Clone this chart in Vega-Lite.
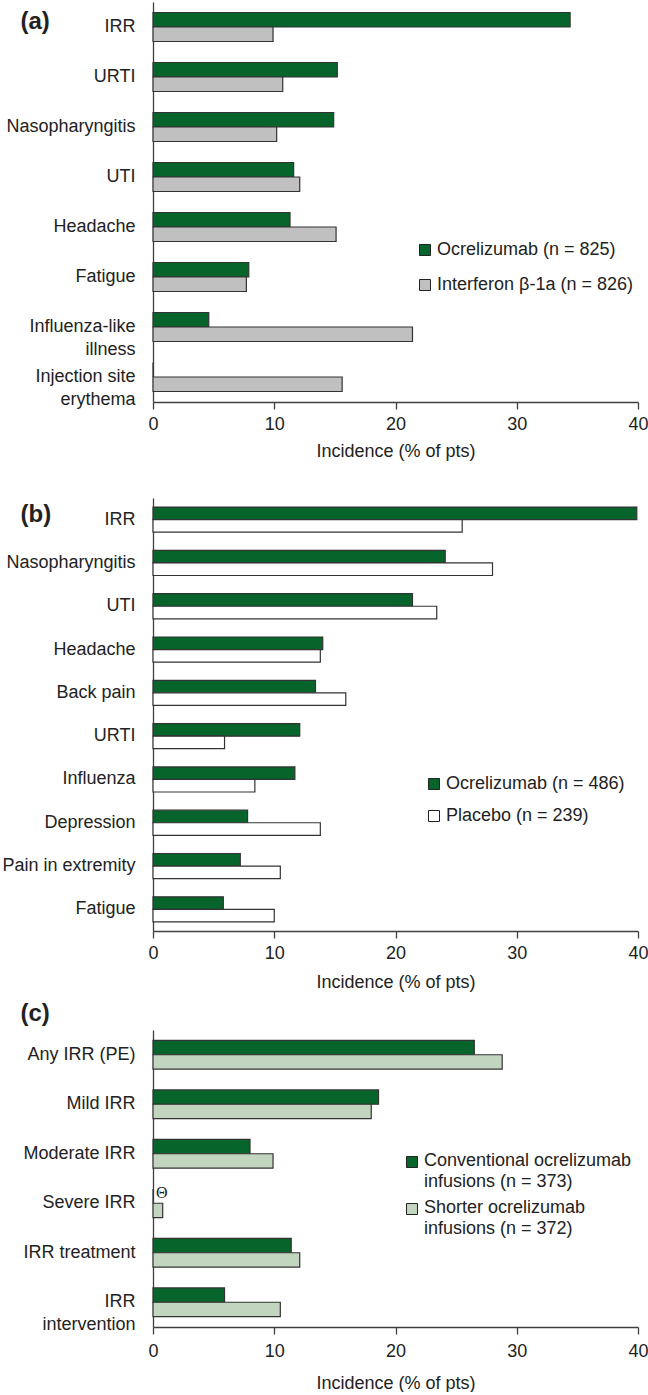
{
  "$schema": "https://vega.github.io/schema/vega-lite/v6.json",
  "padding": {"left": 1, "top": 2, "right": 0, "bottom": 0},
  "background": "white",
  "config": {
    "font": "Liberation Sans",
    "view": {"stroke": null},
    "axis": {
      "labelFont": "Liberation Sans", "labelFontSize": 18, "labelColor": "#222",
      "titleFont": "Liberation Sans", "titleFontSize": 18, "titleFontWeight": "normal", "titleColor": "#222",
      "domainColor": "#404040", "domainWidth": 1.3, "tickColor": "#404040", "tickWidth": 1.3, "grid": false
    },
    "legend": {
      "labelFont": "Liberation Sans", "labelFontSize": 18, "labelColor": "#222",
      "symbolType": "square", "symbolSize": 121, "symbolStrokeColor": "#222", "symbolStrokeWidth": 1,
      "labelLimit": 400, "labelOffset": 3
    }
  },
  "resolve": {"scale": {"x": "independent", "y": "independent", "yOffset": "independent", "fill": "independent"}, "legend": {"fill": "independent"}},
  "spacing": 10,
  "vconcat": [
    {
      "spacing": 38,
      "resolve": {"scale": {"x": "independent", "y": "independent", "yOffset": "independent", "fill": "independent"}, "legend": {"fill": "independent"}},
      "vconcat": [
        {
          "width": 485, "height": 400,
          "data": {"values": [
            {"event": "IRR", "arm": "Ocrelizumab (n = 825)", "pct": 34.4},
            {"event": "IRR", "arm": "Interferon β-1a (n = 826)", "pct": 9.9},
            {"event": "URTI", "arm": "Ocrelizumab (n = 825)", "pct": 15.2},
            {"event": "URTI", "arm": "Interferon β-1a (n = 826)", "pct": 10.7},
            {"event": "Nasopharyngitis", "arm": "Ocrelizumab (n = 825)", "pct": 14.9},
            {"event": "Nasopharyngitis", "arm": "Interferon β-1a (n = 826)", "pct": 10.2},
            {"event": "UTI", "arm": "Ocrelizumab (n = 825)", "pct": 11.6},
            {"event": "UTI", "arm": "Interferon β-1a (n = 826)", "pct": 12.1},
            {"event": "Headache", "arm": "Ocrelizumab (n = 825)", "pct": 11.3},
            {"event": "Headache", "arm": "Interferon β-1a (n = 826)", "pct": 15.1},
            {"event": "Fatigue", "arm": "Ocrelizumab (n = 825)", "pct": 7.9},
            {"event": "Fatigue", "arm": "Interferon β-1a (n = 826)", "pct": 7.7},
            {"event": "Influenza-like illness", "arm": "Ocrelizumab (n = 825)", "pct": 4.6},
            {"event": "Influenza-like illness", "arm": "Interferon β-1a (n = 826)", "pct": 21.4},
            {"event": "Injection site erythema", "arm": "Ocrelizumab (n = 825)", "pct": 0},
            {"event": "Injection site erythema", "arm": "Interferon β-1a (n = 826)", "pct": 15.6}
          ]},
          "mark": {"type": "bar", "stroke": "#333", "strokeWidth": 1.2},
          "encoding": {
            "y": {
              "field": "event", "type": "nominal",
              "sort": ["IRR", "URTI", "Nasopharyngitis", "UTI", "Headache", "Fatigue", "Influenza-like illness", "Injection site erythema"],
              "scale": {"paddingInner": 0.42, "paddingOuter": 0.21},
              "axis": {
                "title": "(a)", "titleAngle": 0, "titleX": -133, "titleY": 19, "titleAlign": "left", "titleBaseline": "middle",
                "titleFontSize": 24, "titleFontWeight": "bold", "ticks": false, "labelPadding": 18, "labelLineHeight": 22.5,
                "labelExpr": "datum.label == 'Influenza-like illness' ? ['Influenza-like', 'illness'] : datum.label == 'Injection site erythema' ? ['Injection site', 'erythema'] : datum.label"
              }
            },
            "yOffset": {"field": "arm", "type": "nominal", "sort": ["Ocrelizumab (n = 825)", "Interferon β-1a (n = 826)"]},
            "x": {
              "field": "pct", "type": "quantitative", "scale": {"domain": [0, 40]},
              "axis": {"values": [0, 10, 20, 30, 40], "title": "Incidence (% of pts)", "tickSize": 7, "labelPadding": 6, "titlePadding": 9, "labelFlush": false}
            },
            "fill": {
              "field": "arm", "type": "nominal",
              "scale": {"domain": ["Ocrelizumab (n = 825)", "Interferon β-1a (n = 826)"], "range": ["#07652b", "#c0c0c0"]},
              "legend": {"title": null, "orient": "none", "legendX": 263, "legendY": 239, "rowPadding": 17}
            }
          }
        },
        {
          "width": 485, "height": 433,
          "data": {"values": [
            {"event": "IRR", "arm": "Ocrelizumab (n = 486)", "pct": 39.9},
            {"event": "IRR", "arm": "Placebo (n = 239)", "pct": 25.5},
            {"event": "Nasopharyngitis", "arm": "Ocrelizumab (n = 486)", "pct": 24.1},
            {"event": "Nasopharyngitis", "arm": "Placebo (n = 239)", "pct": 28.0},
            {"event": "UTI", "arm": "Ocrelizumab (n = 486)", "pct": 21.4},
            {"event": "UTI", "arm": "Placebo (n = 239)", "pct": 23.4},
            {"event": "Headache", "arm": "Ocrelizumab (n = 486)", "pct": 14.0},
            {"event": "Headache", "arm": "Placebo (n = 239)", "pct": 13.8},
            {"event": "Back pain", "arm": "Ocrelizumab (n = 486)", "pct": 13.4},
            {"event": "Back pain", "arm": "Placebo (n = 239)", "pct": 15.9},
            {"event": "URTI", "arm": "Ocrelizumab (n = 486)", "pct": 12.1},
            {"event": "URTI", "arm": "Placebo (n = 239)", "pct": 5.9},
            {"event": "Influenza", "arm": "Ocrelizumab (n = 486)", "pct": 11.7},
            {"event": "Influenza", "arm": "Placebo (n = 239)", "pct": 8.4},
            {"event": "Depression", "arm": "Ocrelizumab (n = 486)", "pct": 7.8},
            {"event": "Depression", "arm": "Placebo (n = 239)", "pct": 13.8},
            {"event": "Pain in extremity", "arm": "Ocrelizumab (n = 486)", "pct": 7.2},
            {"event": "Pain in extremity", "arm": "Placebo (n = 239)", "pct": 10.5},
            {"event": "Fatigue", "arm": "Ocrelizumab (n = 486)", "pct": 5.8},
            {"event": "Fatigue", "arm": "Placebo (n = 239)", "pct": 10.0}
          ]},
          "mark": {"type": "bar", "stroke": "#333", "strokeWidth": 1.2},
          "encoding": {
            "y": {
              "field": "event", "type": "nominal",
              "sort": ["IRR", "Nasopharyngitis", "UTI", "Headache", "Back pain", "URTI", "Influenza", "Depression", "Pain in extremity", "Fatigue"],
              "scale": {"paddingInner": 0.42, "paddingOuter": 0.21},
              "axis": {
                "title": "(b)", "titleAngle": 0, "titleX": -133, "titleY": 16, "titleAlign": "left", "titleBaseline": "middle",
                "titleFontSize": 24, "titleFontWeight": "bold", "ticks": false, "labelPadding": 18
              }
            },
            "yOffset": {"field": "arm", "type": "nominal", "sort": ["Ocrelizumab (n = 486)", "Placebo (n = 239)"]},
            "x": {
              "field": "pct", "type": "quantitative", "scale": {"domain": [0, 40]},
              "axis": {"values": [0, 10, 20, 30, 40], "title": "Incidence (% of pts)", "tickSize": 7, "labelPadding": 6, "titlePadding": 11, "labelFlush": false}
            },
            "fill": {
              "field": "arm", "type": "nominal",
              "scale": {"domain": ["Ocrelizumab (n = 486)", "Placebo (n = 239)"], "range": ["#07652b", "#ffffff"]},
              "legend": {"title": null, "orient": "none", "legendX": 272, "legendY": 277, "rowPadding": 14}
            }
          }
        }
      ]
    },
    {
      "width": 485, "height": 297,
      "data": {"values": [
        {"event": "Any IRR (PE)", "arm": "Conventional ocrelizumab infusions (n = 373)", "pct": 26.5},
        {"event": "Any IRR (PE)", "arm": "Shorter ocrelizumab infusions (n = 372)", "pct": 28.8},
        {"event": "Mild IRR", "arm": "Conventional ocrelizumab infusions (n = 373)", "pct": 18.6},
        {"event": "Mild IRR", "arm": "Shorter ocrelizumab infusions (n = 372)", "pct": 18.0},
        {"event": "Moderate IRR", "arm": "Conventional ocrelizumab infusions (n = 373)", "pct": 8.0},
        {"event": "Moderate IRR", "arm": "Shorter ocrelizumab infusions (n = 372)", "pct": 9.9},
        {"event": "Severe IRR", "arm": "Conventional ocrelizumab infusions (n = 373)", "pct": 0, "note": "Θ"},
        {"event": "Severe IRR", "arm": "Shorter ocrelizumab infusions (n = 372)", "pct": 0.8},
        {"event": "IRR treatment", "arm": "Conventional ocrelizumab infusions (n = 373)", "pct": 11.4},
        {"event": "IRR treatment", "arm": "Shorter ocrelizumab infusions (n = 372)", "pct": 12.1},
        {"event": "IRR intervention", "arm": "Conventional ocrelizumab infusions (n = 373)", "pct": 5.9},
        {"event": "IRR intervention", "arm": "Shorter ocrelizumab infusions (n = 372)", "pct": 10.5}
      ]},
      "encoding": {
        "y": {
          "field": "event", "type": "nominal",
          "sort": ["Any IRR (PE)", "Mild IRR", "Moderate IRR", "Severe IRR", "IRR treatment", "IRR intervention"],
          "scale": {"paddingInner": 0.42, "paddingOuter": 0.21},
          "axis": {
            "title": "(c)", "titleAngle": 0, "titleX": -133, "titleY": -17, "titleAlign": "left", "titleBaseline": "middle",
            "titleFontSize": 24, "titleFontWeight": "bold", "ticks": false, "labelPadding": 18, "labelLineHeight": 22.5,
            "labelExpr": "datum.label == 'IRR intervention' ? ['IRR', 'intervention'] : datum.label"
          }
        },
        "yOffset": {"field": "arm", "type": "nominal", "sort": ["Conventional ocrelizumab infusions (n = 373)", "Shorter ocrelizumab infusions (n = 372)"]},
        "x": {
          "field": "pct", "type": "quantitative", "scale": {"domain": [0, 40]},
          "axis": {"values": [0, 10, 20, 30, 40], "title": "Incidence (% of pts)", "tickSize": 7, "labelPadding": 8, "titlePadding": 14, "labelFlush": false}
        }
      },
      "layer": [
        {
          "mark": {"type": "bar", "stroke": "#333", "strokeWidth": 1.2},
          "encoding": {
            "fill": {
              "field": "arm", "type": "nominal",
              "scale": {"domain": ["Conventional ocrelizumab infusions (n = 373)", "Shorter ocrelizumab infusions (n = 372)"], "range": ["#07652b", "#c2d5bf"]},
              "legend": {
                "title": null, "orient": "none", "legendX": 250, "legendY": 123, "rowPadding": 8, "labelBaseline": "top",
                "labelExpr": "indexof(datum.label, 'Conventional') == 0 ? ['Conventional ocrelizumab', 'infusions (n = 373)'] : ['Shorter ocrelizumab', 'infusions (n = 372)']",
                "encode": {"labels": {"update": {"dy": {"value": -10}, "lineHeight": {"value": 20.5}}}}
              }
            }
          }
        },
        {
          "transform": [{"filter": "datum.note != null"}],
          "mark": {"type": "text", "align": "left", "baseline": "middle", "dx": 3, "dy": -3, "font": "Liberation Serif", "fontSize": 16, "fill": "#222"},
          "encoding": {"text": {"field": "note"}}
        }
      ]
    }
  ]
}
